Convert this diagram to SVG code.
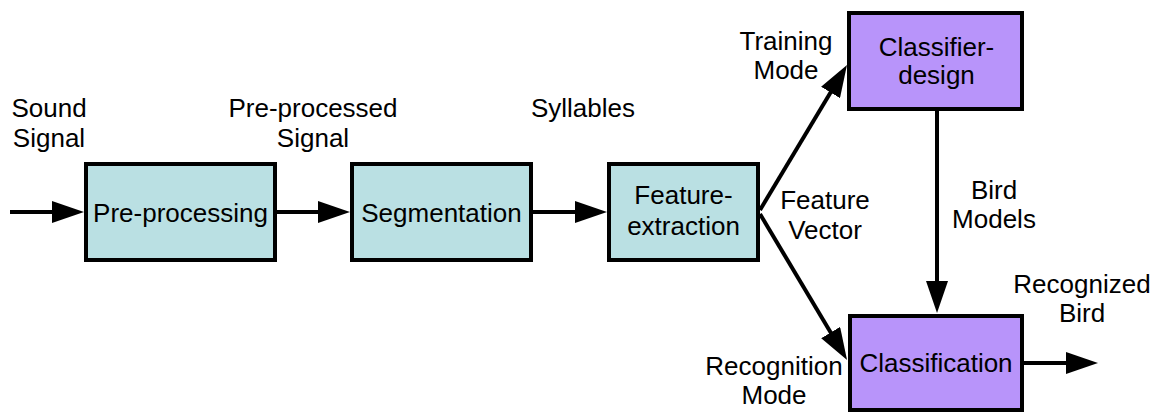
<svg xmlns="http://www.w3.org/2000/svg" width="1157" height="412" viewBox="0 0 1157 412">
<style>
.box{stroke:#000;stroke-width:4}
.cyan{fill:#bae0e3}
.purple{fill:#b894fa}
text{font-family:"Liberation Sans",Arial,Helvetica,sans-serif;font-size:26px;fill:#000;text-anchor:middle}
.conn{stroke:#000;stroke-width:4;fill:none;marker-end:url(#ah)}
</style>
<defs>
<marker id="ah" markerUnits="userSpaceOnUse" markerWidth="32" markerHeight="22" refX="12" refY="11" orient="auto" viewBox="0 0 32 22">
<path d="M0,0 L32,11 L0,22 z" fill="#000"/>
</marker>
</defs>
<rect width="1157" height="412" fill="#fff"/>
<g id="connectors">
<line class="conn" x1="10" y1="212" x2="64" y2="212"/>
<line class="conn" x1="277" y1="212" x2="330" y2="212"/>
<line class="conn" x1="533" y1="212" x2="587" y2="212"/>
<line class="conn" x1="760" y1="210" x2="836.7" y2="82.2"/>
<line class="conn" x1="760" y1="214" x2="836.8" y2="342.8"/>
<line class="conn" x1="937" y1="111" x2="937" y2="293"/>
<line class="conn" x1="1024" y1="363" x2="1078" y2="363"/>
</g>
<g id="labels">
<text x="49" y="117">Sound</text>
<text x="49" y="147">Signal</text>
<text x="313" y="117">Pre-processed</text>
<text x="313" y="147">Signal</text>
<text x="583" y="117">Syllables</text>
<text x="786" y="50">Training</text>
<text x="786" y="79">Mode</text>
<text x="825" y="209">Feature</text>
<text x="825" y="239">Vector</text>
<text x="994" y="199">Bird</text>
<text x="994" y="228">Models</text>
<text x="1082" y="293">Recognized</text>
<text x="1082" y="322">Bird</text>
<text x="774" y="375">Recognition</text>
<text x="774" y="404">Mode</text>
</g>
<g id="preprocessing">
<rect class="box cyan" x="86" y="164" width="189" height="96"/>
<text x="180.5" y="222">Pre-processing</text>
</g>
<g id="segmentation">
<rect class="box cyan" x="352" y="164" width="179" height="96"/>
<text x="441.5" y="222">Segmentation</text>
</g>
<g id="feature-extraction">
<rect class="box cyan" x="609" y="164" width="149" height="96"/>
<text x="683.5" y="204">Feature-</text>
<text x="683.5" y="235">extraction</text>
</g>
<g id="classifier-design">
<rect class="box purple" x="849" y="13" width="173" height="96"/>
<text x="936.5" y="56">Classifier-</text>
<text x="936.5" y="84">design</text>
</g>
<g id="classification">
<rect class="box purple" x="850" y="316" width="172" height="94"/>
<text x="936" y="372">Classification</text>
</g>
</svg>
